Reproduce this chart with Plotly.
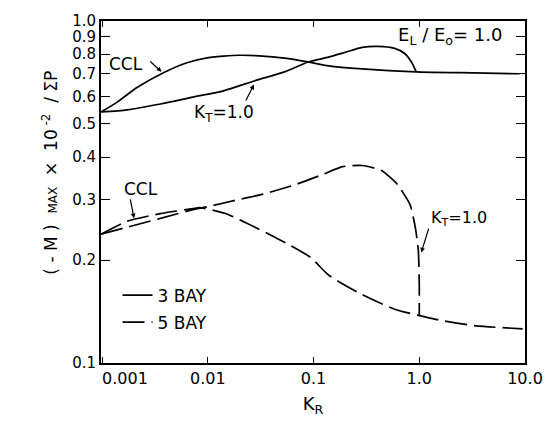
import plotly.graph_objects as go

# ---- data ----
# 3 BAY, CCL curve
kr_ccl3 = [0.00098, 0.00139, 0.00214, 0.00381, 0.00624, 0.00957, 0.0141, 0.0200, 0.0305, 0.0532, 0.0889, 0.139, 0.288, 0.937, 2.45, 8.9]
m_ccl3 = [0.542, 0.579, 0.639, 0.706, 0.754, 0.779, 0.789, 0.794, 0.791, 0.779, 0.759, 0.739, 0.724, 0.710, 0.706, 0.701]
# 3 BAY, K_T = 1.0 curve
kr_kt3 = [0.00098, 0.00173, 0.00357, 0.00724, 0.0141, 0.0279, 0.0532, 0.0889, 0.139, 0.20, 0.288, 0.406, 0.585, 0.724, 0.843, 0.937]
m_kt3 = [0.542, 0.550, 0.572, 0.599, 0.625, 0.669, 0.710, 0.759, 0.784, 0.810, 0.837, 0.843, 0.832, 0.805, 0.759, 0.710]
# 5 BAY, CCL curve
kr_ccl5 = [0.00098, 0.00173, 0.00357, 0.00724, 0.0084, 0.0147, 0.0305, 0.0612, 0.094, 0.139, 0.288, 0.585, 0.96, 1.72, 3.45, 9.5]
m_ccl5 = [0.238, 0.2597, 0.2735, 0.2827, 0.2846, 0.2735, 0.2462, 0.2203, 0.2035, 0.1807, 0.1585, 0.1436, 0.138, 0.1327, 0.1284, 0.1259]
# 5 BAY, K_T = 1.0 curve
kr_kt5 = [0.00098, 0.00173, 0.00357, 0.00724, 0.0100, 0.0190, 0.0339, 0.0687, 0.1225, 0.188, 0.288, 0.44, 0.62, 0.82, 0.92, 0.98, 1.0, 1.0]
m_kt5 = [0.238, 0.2495, 0.2648, 0.2809, 0.2865, 0.300, 0.312, 0.333, 0.356, 0.375, 0.378, 0.3655, 0.333, 0.290, 0.248, 0.213, 0.1716, 0.138]

x_ticks = [0.001, 0.01, 0.1, 1.0, 10.0]
x_ticktext = ["\u00a0" * 9 + "0.001", "0.01", "0.1", "1.0", "10.0"]
y_ticks = [0.1, 0.2, 0.3, 0.4, 0.5, 0.6, 0.7, 0.8, 0.9, 1.0]
y_ticktext = ["0.1", "0.2", "0.3", "0.4", "0.5", "0.6", "0.7", "0.8", "0.9", "1.0"]

FONT = "DejaVu Sans, sans-serif"
fig = go.Figure()
solid = dict(color="black", width=1.7)
dashed = dict(color="black", width=1.7, dash="22px,7px")

fig.add_trace(go.Scatter(x=kr_ccl3, y=m_ccl3, mode="lines", line=dict(**solid, shape="spline", smoothing=0.6),
                         name="3 BAY", legendgroup="a", showlegend=True))
fig.add_trace(go.Scatter(x=kr_kt3, y=m_kt3, mode="lines", line=dict(**solid, shape="spline", smoothing=0.6),
                         name="3 BAY", legendgroup="a", showlegend=False))
fig.add_trace(go.Scatter(x=kr_ccl5, y=m_ccl5, mode="lines", line=dict(**dashed, shape="spline", smoothing=0.6),
                         name="5 BAY", legendgroup="b", showlegend=True))
fig.add_trace(go.Scatter(x=kr_kt5, y=m_kt5, mode="lines", line=dict(**dashed, shape="spline", smoothing=0.5),
                         name="5 BAY", legendgroup="b", showlegend=False))

axis_common = dict(type="log", showgrid=False, zeroline=False, showline=True, linecolor="black", linewidth=2,
                   ticks="inside", tickcolor="black", mirror="ticks")
fig.update_xaxes(**axis_common, range=[-3.01, 1.0], tickvals=x_ticks, ticktext=x_ticktext, ticklen=6,
                 tickfont=dict(family=FONT, size=16, color="black"),
                 title=dict(text="K<sub>R</sub>", font=dict(family=FONT, size=18, color="black"), standoff=10))
fig.update_yaxes(**axis_common, range=[-1, 0], tickvals=y_ticks, ticktext=y_ticktext, ticklen=9,
                 tickfont=dict(family=FONT, size=15, color="black"))

def ann(text, lx, ly, size=16):
    return dict(text=text, x=lx, y=ly, xref="x", yref="y", showarrow=False,
                font=dict(family=FONT, size=size, color="black"))

def arrow(tx, ty, hx, hy):
    return dict(text="", x=hx, y=hy, ax=tx, ay=ty, xref="x", yref="y", axref="x", ayref="y",
                showarrow=True, arrowhead=2, arrowsize=0.8, arrowwidth=1.2, arrowcolor="black")

annotations = [
    dict(text="( - M )  <span style='font-size:12px'>MAX</span>  ×  10<sup> -2</sup>  / ΣP",
         x=-0.153, y=0.557, xref="paper", yref="paper", textangle=-90, showarrow=False,
         font=dict(family=FONT, size=17, color="black")),
    ann("CCL", -2.772, -0.1257, 17),
    arrow(-2.558, -0.1143, -2.437, -0.1486),
    ann("K<sub>T</sub>=1.0", -1.851, -0.2714, 17),
    arrow(-1.647, -0.237, -1.563, -0.1857),
    ann("E<sub>L</sub> / E<sub>o</sub>= 1.0", 0.293, -0.0429, 18),
    ann("CCL", -2.633, -0.491, 17),
    arrow(-2.735, -0.517, -2.698, -0.577),
    ann("K<sub>T</sub>=1.0", 0.372, -0.577, 16),
    arrow(0.093, -0.603, 0.0186, -0.677),
]

fig.update_layout(
    width=555, height=423,
    margin=dict(l=101, r=23, t=15, b=58),
    paper_bgcolor="white", plot_bgcolor="white",
    showlegend=True,
    legend=dict(x=0.039, y=0.25, xanchor="left", yanchor="top", bgcolor="rgba(0,0,0,0)",
                font=dict(family=FONT, size=17, color="black"), tracegroupgap=2, itemwidth=30),
    annotations=annotations,
)

fig.write_html("out.html")
